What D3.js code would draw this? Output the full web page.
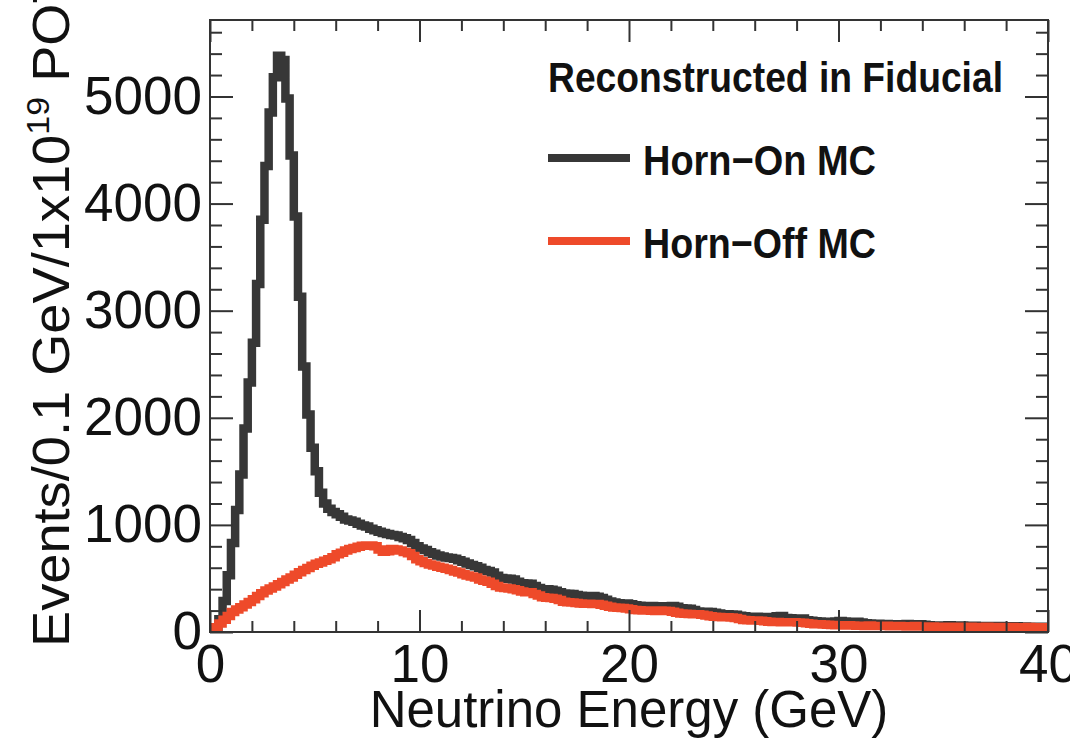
<!DOCTYPE html>
<html><head><meta charset="utf-8">
<script src="https://cdn.jsdelivr.net/npm/d3@7"></script>
<style>body{margin:0;background:#fff;} svg{display:block;}</style>
</head><body><svg id="c" width="1070" height="742"></svg>
<script>
// Bin contents, 0.2 GeV bins from 0 to 40 GeV
const hornOn = [
10,40,120,290,530,830,1140,1470,1900,2330,
2700,3250,3850,4350,4850,5180,5380,5340,4980,4450,
3880,3130,2480,2030,1720,1500,1300,1200,1150,1120,
1100,1075,1050,1040,1030,1010,995,985,965,950,
935,925,915,905,900,888,875,860,830,800,
780,765,745,730,715,705,695,690,685,670,
655,640,625,615,600,580,570,555,525,505,
500,498,490,470,455,453,450,430,410,400,
398,395,385,372,360,357,355,345,338,335,
333,335,330,318,300,285,275,268,267,265,
258,250,245,243,242,242,240,241,240,236,
242,235,222,220,218,205,192,190,188,186,
180,172,166,165,163,160,152,146,143,142,
143,141,135,132,140,148,150,130,128,127,
126,125,110,105,100,98,96,95,94,98,
102,97,90,96,95,88,82,80,78,76,
75,74,73,72,73,72,74,73,72,72,
68,64,60,60,61,60,63,60,58,60,
57,56,58,55,54,56,53,54,55,53,
52,51,53,50,51,49,50,49,48,48
];
const hornOff = [
15,45,80,115,150,186,210,232,256,279,
305,335,362,388,405,425,445,466,490,510,
535,559,580,598,618,637,650,665,680,698,
725,740,761,775,785,795,805,808,807,800,
770,750,755,775,770,760,748,735,710,680,
660,645,630,620,610,600,590,578,565,555,
540,528,518,508,490,478,470,450,430,415,
410,405,400,390,378,372,370,355,340,325,
320,318,310,298,282,278,276,270,265,264,
263,262,262,255,245,235,228,226,225,220,
212,205,202,201,200,198,196,200,198,195,
190,180,172,170,168,166,165,160,155,148,
142,140,138,137,135,130,122,112,110,108,
107,105,100,96,94,93,92,92,90,90,
88,86,82,78,72,72,70,68,66,64,
62,60,62,60,58,58,57,60,57,56,
55,58,54,53,56,53,52,54,55,52,
51,50,52,50,49,50,48,49,50,48,
47,48,47,46,47,48,46,45,46,47,
45,46,45,44,45,46,45,44,45,44
];
const binWidth = 0.2;
const xDomain = [0, 40];
const yDomain = [0, 5714];
const xTickValues = [0, 10, 20, 30, 40];
const xMinorTickValues = [2,4,6,8,12,14,16,18,22,24,26,28,32,34,36,38];
const yTickValues = [0, 1000, 2000, 3000, 4000, 5000];
const yMinorTickValues = [200,400,600,800,1200,1400,1600,1800,2200,2400,2600,2800,3200,3400,3600,3800,4200,4400,4600,4800,5200,5400,5600];
const seriesNames = ["Horn\u2212On MC", "Horn\u2212Off MC"];
const seriesColors = ["#373737", "#ee4a2a"];
const legendTitle = "Reconstructed in Fiducial";
const xTitle = "Neutrino Energy (GeV)";

const FONT = "'Liberation Sans', Arial, Helvetica, sans-serif";
const svg = d3.select("#c");
const L = 210, R = 1048, T = 20, B = 632;
const x = d3.scaleLinear().domain(xDomain).range([L, R]);
const y = d3.scaleLinear().domain(yDomain).range([B, T]);

svg.append("rect").attr("width",1070).attr("height",742).attr("fill","#fff");

svg.append("clipPath").attr("id","clip").append("rect")
  .attr("x",L).attr("y",T).attr("width",R-L).attr("height",B-T);

function histPoints(vals){
  const pts = vals.map((v,i)=>[i*binWidth, v]);
  pts.push([vals.length*binWidth, vals[vals.length-1]]);
  return pts;
}
const line = d3.line().x(d=>x(d[0])).y(d=>y(d[1])).curve(d3.curveStepAfter);
const g = svg.append("g").attr("clip-path","url(#clip)");
[hornOn, hornOff].forEach((vals,k)=>{
  g.append("path").datum(histPoints(vals))
    .attr("d", line).attr("fill","none")
    .attr("stroke", seriesColors[k]).attr("stroke-width", 8.5)
    .attr("stroke-linejoin","miter").attr("stroke-linecap","butt");
});

function styleAxis(sel){
  sel.select(".domain").remove();
  sel.selectAll(".tick line").attr("stroke","#333").attr("stroke-width",2);
  sel.selectAll("text").attr("font-family",FONT).attr("font-size",53).attr("fill","#111");
}
svg.append("g").attr("transform",`translate(0,${B})`)
  .call(d3.axisBottom(x).tickValues(xTickValues).tickSize(-22).tickPadding(12).tickSizeOuter(0))
  .call(styleAxis);
svg.append("g").attr("transform",`translate(0,${B})`)
  .call(d3.axisBottom(x).tickValues(xMinorTickValues).tickSize(-11).tickFormat("").tickSizeOuter(0))
  .call(styleAxis);
svg.append("g").attr("transform",`translate(0,${T})`)
  .call(d3.axisTop(x).tickValues(xTickValues).tickSize(-22).tickFormat("").tickSizeOuter(0))
  .call(styleAxis);
svg.append("g").attr("transform",`translate(0,${T})`)
  .call(d3.axisTop(x).tickValues(xMinorTickValues).tickSize(-11).tickFormat("").tickSizeOuter(0))
  .call(styleAxis);
svg.append("g").attr("transform",`translate(${L},0)`)
  .call(d3.axisLeft(y).tickValues(yTickValues).tickSize(-23).tickPadding(8).tickFormat(d3.format("d")).tickSizeOuter(0))
  .call(styleAxis);
svg.append("g").attr("transform",`translate(${L},0)`)
  .call(d3.axisLeft(y).tickValues(yMinorTickValues).tickSize(-12).tickFormat("").tickSizeOuter(0))
  .call(styleAxis);
svg.append("g").attr("transform",`translate(${R},0)`)
  .call(d3.axisRight(y).tickValues(yTickValues).tickSize(-23).tickFormat("").tickSizeOuter(0))
  .call(styleAxis);
svg.append("g").attr("transform",`translate(${R},0)`)
  .call(d3.axisRight(y).tickValues(yMinorTickValues).tickSize(-12).tickFormat("").tickSizeOuter(0))
  .call(styleAxis);

svg.append("rect").attr("x",L).attr("y",T).attr("width",R-L).attr("height",B-T)
  .attr("fill","none").attr("stroke","#333").attr("stroke-width",2);

svg.append("text").attr("x",(L+R)/2).attr("y",727).attr("text-anchor","middle")
  .attr("font-family",FONT).attr("font-size",51).attr("fill","#111").text(xTitle);
const yt = svg.append("text").attr("transform","translate(69,647) rotate(-90) scale(1.063,1)")
  .attr("font-family",FONT).attr("font-size",51).attr("fill","#111");
yt.append("tspan").text("Events/0.1 GeV/1x10");
yt.append("tspan").attr("font-size",32).attr("dy",-20).text("19");
yt.append("tspan").attr("dy",20).text(" POT");

svg.append("text").attr("x",548).attr("y",92).attr("font-family",FONT).attr("font-weight","bold")
  .attr("font-size",43).attr("fill","#111").attr("textLength",455).attr("lengthAdjust","spacingAndGlyphs")
  .text(legendTitle);
const legY = [158, 241];
seriesNames.forEach((name,k)=>{
  svg.append("line").attr("x1",548).attr("x2",630).attr("y1",legY[k]).attr("y2",legY[k])
    .attr("stroke",seriesColors[k]).attr("stroke-width",8);
  svg.append("text").attr("x",643).attr("y",legY[k]+17).attr("font-family",FONT).attr("font-weight","bold")
    .attr("font-size",43).attr("fill","#111").attr("textLength",233).attr("lengthAdjust","spacingAndGlyphs")
    .text(name);
});
</script></body></html>
